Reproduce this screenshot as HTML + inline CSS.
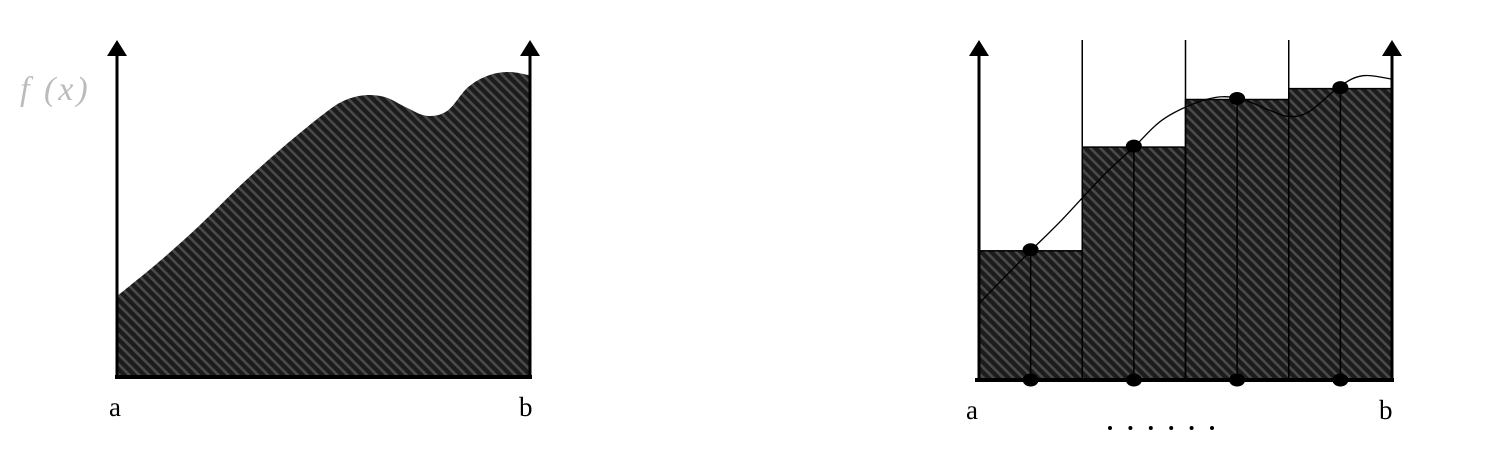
<!DOCTYPE html>
<html><head><meta charset="utf-8"><style>
html,body{margin:0;padding:0;background:#fff}
svg{display:block}
text{font-family:"Liberation Serif",serif}
</style></head><body>
<svg id="chart" width="1487" height="462" viewBox="0 0 1487 462">
<defs>
<pattern id="hatch" patternUnits="userSpaceOnUse" width="7" height="7" patternTransform="rotate(-45)">
<rect width="7" height="7" fill="#1c1c1c"/>
<rect width="2.6" height="7" fill="#4a4a4a"/>
</pattern>
</defs>
<g id="left"></g>
<g id="right"></g>
</svg>
<script>
// curve samples: x fraction of [a,b], y value (0 = baseline, 1 = arrow top)
const curveX = [0, 0.1, 0.2, 0.3, 0.4, 0.5, 0.55, 0.6, 0.65, 0.7, 0.75, 0.8, 0.85, 0.9, 0.95, 1.0];
const curveY = [0.24, 0.34, 0.45, 0.57, 0.68, 0.78, 0.82, 0.836, 0.83, 0.80, 0.775, 0.79, 0.86, 0.895, 0.905, 0.895];
// Riemann rectangles (right panel)
const rectHeights = [0.38, 0.685, 0.825, 0.857];
const rectCurveX = [0, 0.06, 0.125, 0.2, 0.3, 0.375, 0.45, 0.55, 0.625, 0.7, 0.75, 0.8, 0.875, 0.93, 1.0];
const rectCurveY = [0.225, 0.30, 0.38, 0.47, 0.60, 0.685, 0.77, 0.825, 0.83, 0.795, 0.775, 0.79, 0.865, 0.895, 0.885];
const NS = "http://www.w3.org/2000/svg";
function mk(parent, tag, attrs){const e=document.createElementNS(NS,tag);for(const k in attrs)e.setAttribute(k,attrs[k]);parent.appendChild(e);return e;}
function smoothPath(pts){let d="M"+pts[0][0]+","+pts[0][1];for(let i=0;i<pts.length-1;i++){const p0=pts[i-1]||pts[i],p1=pts[i],p2=pts[i+1],p3=pts[i+2]||p2;const c1x=p1[0]+(p2[0]-p0[0])/6,c1y=p1[1]+(p2[1]-p0[1])/6,c2x=p2[0]-(p3[0]-p1[0])/6,c2y=p2[1]-(p3[1]-p1[1])/6;d+=" C"+c1x+","+c1y+" "+c2x+","+c2y+" "+p2[0]+","+p2[1];}return d;}
function axes(x0, x1, y0, yTop){
  const sx=v=>x0+v*(x1-x0), sy=v=>y0-v*(y0-yTop);
  return {sx,sy};
}
function arrow(g,x,y0,yTop,name){
  const l=mk(g,"line",{x1:x,y1:y0,x2:x,y2:yTop+14,stroke:"#000","stroke-width":3});
  
  
  const h=mk(g,"polygon",{points:(x-10)+","+(yTop+16)+" "+(x+10)+","+(yTop+16)+" "+x+","+yTop,fill:"#000"});
  
  
}
function label(g,x,y,t,name,extra){
  const e=mk(g,"text",Object.assign({x:x,y:y,"font-size":27,fill:"#000"},extra||{}));e.textContent=t;
  
  
  return e;
}
// LEFT
(function(){
  const g=document.getElementById("left");
  const x0=117,x1=530,y0=377,yTop=40;
  const {sx,sy}=axes(x0,x1,y0,yTop);
  const pts=curveX.map((v,i)=>[sx(v),sy(curveY[i])]);
  const area=mk(g,"path",{d:smoothPath(pts)+" L"+x1+","+y0+" L"+x0+","+y0+" Z",fill:"url(#hatch)"});
  
  
  const base=mk(g,"line",{x1:x0-2,y1:y0,x2:x1+2,y2:y0,stroke:"#000","stroke-width":4});
  
  
  arrow(g,x0,y0,yTop,'y-axis-left');
  arrow(g,x1,y0,yTop,'y-axis-right');
  label(g,109,416,"a","label-a");
  label(g,519,416,"b","label-b");
  label(g,20,100,"f (x)","fx-label",{fill:"#bbb","font-style":"italic","font-size":34,"letter-spacing":"3"});
})();
// RIGHT
(function(){
  const g=document.getElementById("right");
  const x0=979,x1=1392,y0=380,yTop=40;
  const {sx,sy}=axes(x0,x1,y0,yTop);
  const n=rectHeights.length, w=(x1-x0)/n;
  rectHeights.forEach((h,i)=>{
    const r=mk(g,"rect",{x:x0+i*w,y:sy(h),width:w,height:y0-sy(h),fill:"url(#hatch)",stroke:"#000","stroke-width":1.5});
    
    
  });
  for(let i=1;i<n;i++){
    const l=mk(g,"line",{x1:x0+i*w,y1:yTop,x2:x0+i*w,y2:y0,stroke:"#000","stroke-width":1.5});
    
    
  }
  const pts=rectCurveX.map((v,i)=>[sx(v),sy(rectCurveY[i])]);
  const c=mk(g,"path",{d:smoothPath(pts),fill:"none",stroke:"#000","stroke-width":1.3});
  
  
  rectHeights.forEach((h,i)=>{
    const mx=x0+(i+0.5)*w;
    const l=mk(g,"line",{x1:mx,y1:sy(h),x2:mx,y2:y0,stroke:"#000","stroke-width":1.5});
    
    
    const d1=mk(g,"ellipse",{cx:mx,cy:sy(h)-1,rx:8,ry:6.5,fill:"#000"});
    
    
    const d2=mk(g,"ellipse",{cx:mx,cy:y0,rx:8,ry:6.5,fill:"#000"});
    
    
  });
  const base=mk(g,"line",{x1:x0-4,y1:y0,x2:x1+2,y2:y0,stroke:"#000","stroke-width":4});
  
  
  arrow(g,x0,y0,yTop,'y-axis-left');
  arrow(g,x1,y0,yTop,'y-axis-right');
  label(g,966,419,"a","label-a");
  label(g,1379,419,"b","label-b");
  for(let i=0;i<6;i++){
    const d=mk(g,"circle",{cx:1110+i*20.4,cy:428,r:2,fill:"#000"});
    
    
  }
})();
</script>
</body></html>
